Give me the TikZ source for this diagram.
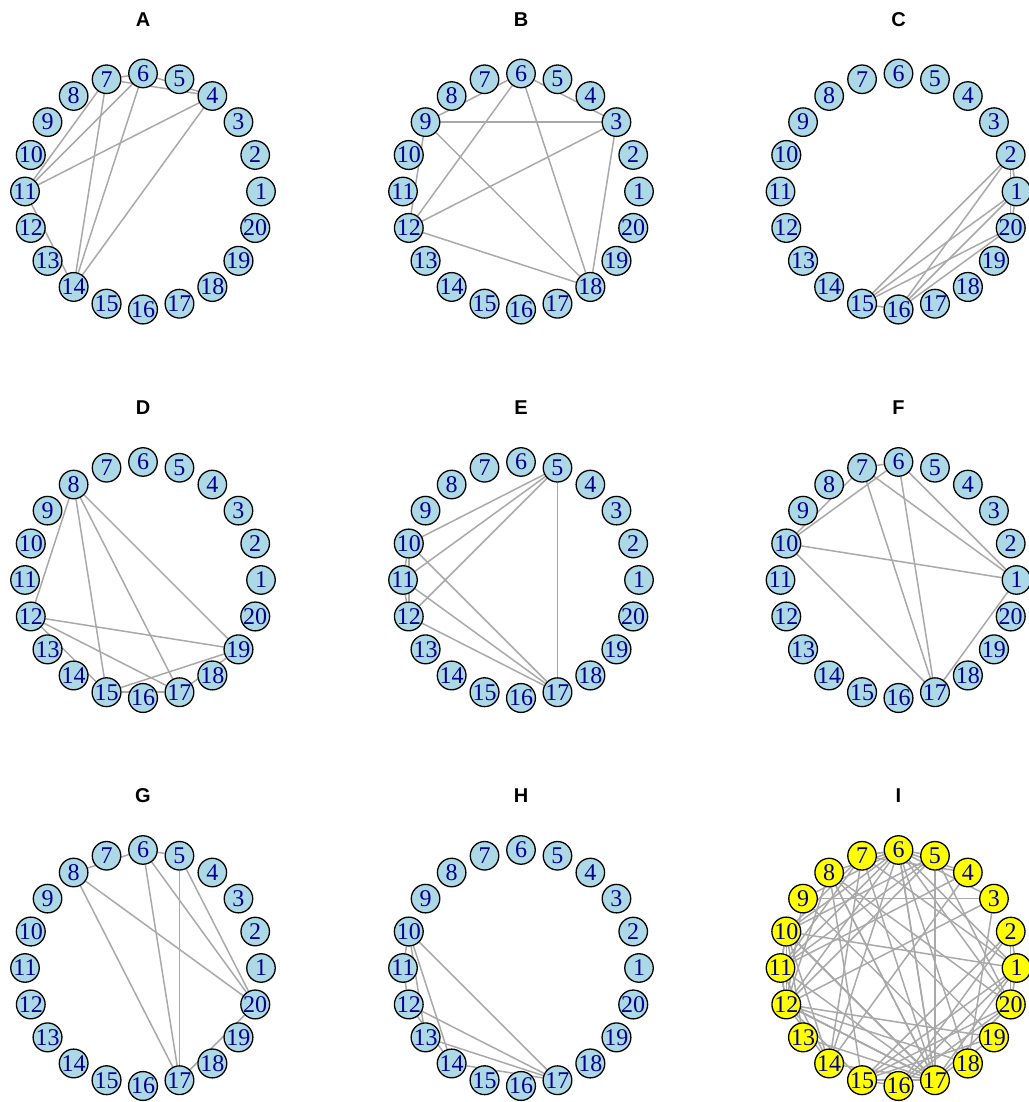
\documentclass[tikz,border=0pt]{standalone}
\usepackage{fontspec}
\setmainfont{Liberation Serif}
\newfontfamily\titlefont{Liberation Sans}
\pgfdeclarelayer{paper}
\pgfdeclarelayer{edgelayer}
\pgfsetlayers{paper,edgelayer,main}
\definecolor{nodeblue}{HTML}{ADD8E6}
\definecolor{labelblue}{HTML}{00008B}
\definecolor{edgegray}{HTML}{A9A9A9}
\definecolor{nodeyellow}{HTML}{FFFF00}
\tikzset{
  vtx/.style={circle, draw=black, line width=1.3pt, fill=nodeblue, minimum size=28.5pt,
    inner sep=0pt, text=labelblue, font=\fontsize{24}{24}\selectfont},
  yvtx/.style={vtx, fill=nodeyellow},
  lnk/.style={draw=edgegray, line width=1.5pt},
  paneltitle/.style={font=\titlefont\bfseries\fontsize{20}{20}\selectfont, inner sep=0pt}
}
\newcommand\drawgraph[5]{%
  \node[paneltitle] (#1title) at (#2,#3+172) {#1};
  \foreach \i in {1,...,20} {
    \node[#4] (#1\i) at ([shift={({(\i-1)*18}:118)}]#2,#3) {\i};
  }
  \begin{pgfonlayer}{edgelayer}
    \foreach \a/\b in #5 { \draw[lnk] (#1\a) -- (#1\b); }
  \end{pgfonlayer}
}
\def\edgesA{7/6, 7/4, 6/4, 11/7, 11/6, 11/4, 14/7, 14/6, 14/4, 11/14}
\def\edgesB{9/6, 6/3, 9/3, 9/18, 9/12, 6/12, 6/18, 3/12, 3/18, 12/18}
\def\edgesC{2/1, 1/20, 2/20, 15/2, 15/1, 15/20, 16/2, 16/1, 16/20, 15/16}
\def\edgesD{8/12, 8/15, 8/17, 8/19, 12/19, 12/17, 12/15, 15/17, 15/19, 17/19}
\def\edgesE{5/10, 5/11, 5/12, 5/17, 10/17, 11/17, 12/17, 10/11, 11/12, 10/12}
\def\edgesF{7/6, 10/7, 10/6, 10/1, 10/17, 7/1, 7/17, 6/1, 6/17, 1/17}
\def\edgesG{8/6, 6/5, 8/20, 8/17, 6/17, 6/20, 5/17, 5/20, 17/20}
\def\edgesH{10/11, 10/13, 10/14, 10/17, 11/12, 12/14, 12/17, 13/17, 14/17}
\edef\edgesI{\edgesA, \edgesB, \edgesC, \edgesD, \edgesE, \edgesF, \edgesG, \edgesH}
\begin{document}
\begin{tikzpicture}[x=1pt,y=1pt]
  \begin{pgfonlayer}{paper}
    \fill[white] (0,0) rectangle (1028,1102);
  \end{pgfonlayer}
  \useasboundingbox (0,0) rectangle (1028,1102);
  \drawgraph{A}{143}{910.5}{vtx}{\edgesA}
  \drawgraph{B}{521}{910.5}{vtx}{\edgesB}
  \drawgraph{C}{898.5}{910.5}{vtx}{\edgesC}
  \drawgraph{D}{143}{522}{vtx}{\edgesD}
  \drawgraph{E}{521}{522}{vtx}{\edgesE}
  \drawgraph{F}{898.5}{522}{vtx}{\edgesF}
  \drawgraph{G}{143}{134}{vtx}{\edgesG}
  \drawgraph{H}{521}{134}{vtx}{\edgesH}
  \drawgraph{I}{898.5}{134}{yvtx}{\edgesI}
\end{tikzpicture}
\end{document}
